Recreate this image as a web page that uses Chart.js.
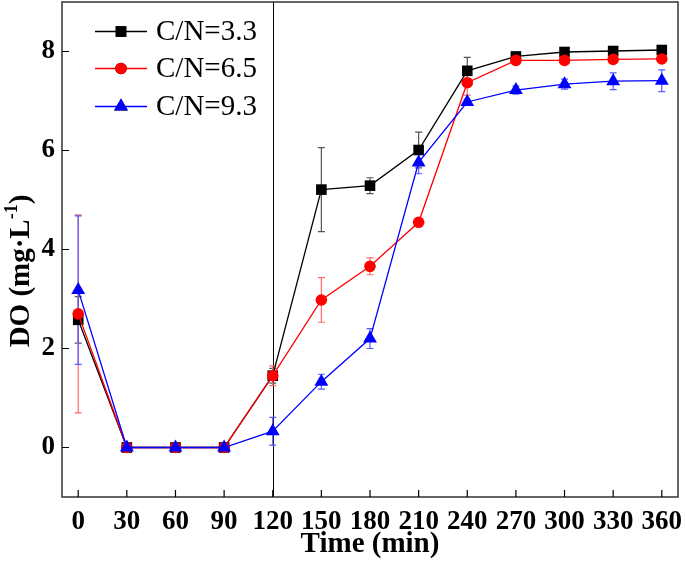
<!DOCTYPE html>
<html>
<head>
<meta charset="utf-8">
<script src="https://cdn.jsdelivr.net/npm/chart.js@4/dist/chart.umd.min.js"></script>
<style>
html,body{margin:0;padding:0;background:#fff;}
#c{display:block;}
</style>
</head>
<body>
<canvas id="c" width="685" height="569"></canvas>
<script>
// ---- data ----
const times = [0, 30, 60, 90, 120, 150, 180, 210, 240, 270, 300, 330, 360];
const xTicks = [0, 30, 60, 90, 120, 150, 180, 210, 240, 270, 300, 330, 360];
const yTicks = [0, 2, 4, 6, 8];
const seriesNames = ['C/N=3.3', 'C/N=6.5', 'C/N=9.3'];
const doCN33 = [2.58, 0, 0, 0, 1.45, 5.21, 5.29, 6.01, 7.61, 7.90, 7.99, 8.01, 8.03];
const errCN33 = [0.47, 0, 0, 0, 0.15, 0.85, 0.16, 0.36, 0.27, 0.05, 0.04, 0.04, 0.04];
const doCN65 = [2.70, 0, 0, 0, 1.45, 2.98, 3.66, 4.55, 7.37, 7.82, 7.82, 7.84, 7.85];
const errCN65 = [2.00, 0, 0, 0, 0.20, 0.45, 0.17, 0, 0.25, 0.04, 0.04, 0.04, 0.04];
const doCN93 = [3.18, 0, 0, 0, 0.33, 1.33, 2.20, 5.76, 6.98, 7.22, 7.34, 7.40, 7.41];
const errCN93 = [1.50, 0, 0, 0, 0.28, 0.15, 0.20, 0.23, 0.06, 0.08, 0.10, 0.17, 0.22];
const markerLine = 120; // vertical reference line position (min)

const toPts = arr => times.map((t, i) => ({x: t, y: arr[i]}));

const styles = [
  {color: '#000000', errColor: '#555555', shape: 'rect', r: 7.5},
  {color: '#ff0000', errColor: '#ff6a6a', shape: 'circle', r: 5.8},
  {color: '#0000ff', errColor: '#5a5aff', shape: 'triangle', r: 8}
];
const values = [doCN33, doCN65, doCN93];
const errors = [errCN33, errCN65, errCN93];

const datasets = values.map((v, i) => ({
  label: seriesNames[i],
  data: toPts(v),
  order: 3 - i,
  borderColor: styles[i].color,
  backgroundColor: styles[i].color,
  borderWidth: 1.3,
  pointStyle: styles[i].shape,
  pointRadius: styles[i].r,
  pointHoverRadius: styles[i].r,
  pointBorderWidth: 0,
  tension: 0,
  errors: errors[i],
  errColor: styles[i].errColor
}));

const serif = '"Liberation Serif", "Times New Roman", serif';

const decor = {
  id: 'decor',
  beforeDatasetsDraw(chart) {
    const {ctx, chartArea: a, scales: {x, y}} = chart;
    ctx.save();
    // vertical line
    const vx = x.getPixelForValue(markerLine);
    ctx.strokeStyle = '#000';
    ctx.lineWidth = 1;
    ctx.beginPath();
    ctx.moveTo(Math.round(vx) + 0.5, a.top);
    ctx.lineTo(Math.round(vx) + 0.5, a.bottom);
    ctx.stroke();
    // error bars
    chart.data.datasets.forEach(ds => {
      ctx.strokeStyle = ds.errColor;
      ctx.lineWidth = 1.2;
      ds.data.forEach((p, i) => {
        const e = ds.errors[i];
        if (!e) return;
        const px = x.getPixelForValue(p.x);
        const y1 = y.getPixelForValue(p.y + e);
        const y2 = y.getPixelForValue(p.y - e);
        ctx.beginPath();
        ctx.moveTo(px, y1); ctx.lineTo(px, y2);
        ctx.moveTo(px - 3.5, y1); ctx.lineTo(px + 3.5, y1);
        ctx.moveTo(px - 3.5, y2); ctx.lineTo(px + 3.5, y2);
        ctx.stroke();
      });
    });
    ctx.restore();
  },
  afterDraw(chart) {
    const {ctx, chartArea: a, scales: {x, y}} = chart;
    ctx.save();
    // frame
    ctx.strokeStyle = '#333';
    ctx.lineWidth = 1.5;
    ctx.strokeRect(a.left, a.top, a.right - a.left, a.bottom - a.top);
    // inward ticks
    ctx.strokeStyle = '#000';
    ctx.lineWidth = 1.2;
    ctx.beginPath();
    xTicks.forEach(t => {
      const px = x.getPixelForValue(t);
      ctx.moveTo(px, a.bottom); ctx.lineTo(px, a.bottom - 7);
    });
    yTicks.forEach(t => {
      const py = y.getPixelForValue(t);
      ctx.moveTo(a.left, py); ctx.lineTo(a.left + 7, py);
    });
    ctx.stroke();
    // legend
    const rows = [31.5, 68.5, 106.5];
    chart.data.datasets.forEach((ds, i) => {
      const cy = rows[i];
      ctx.strokeStyle = ds.borderColor;
      ctx.lineWidth = 1.3;
      ctx.beginPath();
      ctx.moveTo(95, cy); ctx.lineTo(147, cy);
      ctx.stroke();
      Chart.helpers.drawPoint(ctx, {pointStyle: ds.pointStyle, radius: ds.pointRadius, rotation: 0, borderWidth: 0}, 121, cy);
      ctx.fillStyle = ds.borderColor;
      ctx.fill();
      ctx.fillStyle = '#000';
      ctx.font = '29px ' + serif;
      ctx.textBaseline = 'middle';
      ctx.textAlign = 'left';
      ctx.fillText(ds.label, 156, cy + 1);
    });
    // x title
    ctx.fillStyle = '#000';
    ctx.font = 'bold 29px ' + serif;
    ctx.textAlign = 'center';
    ctx.textBaseline = 'alphabetic';
    ctx.fillText('Time (min)', (a.left + a.right) / 2, 552);
    // y title with superscript
    ctx.translate(35, 271);
    ctx.rotate(-Math.PI / 2);
    const f1 = 'bold 29px ' + serif, f2 = 'bold 18px ' + serif;
    const p1 = 'DO (mg·L', p2 = '-1', p3 = ')';
    ctx.font = f1; const w1 = ctx.measureText(p1).width, w3 = ctx.measureText(p3).width;
    ctx.font = f2; const w2 = ctx.measureText(p2).width;
    let sx = -(w1 + w2 + w3) / 2;
    ctx.textAlign = 'left';
    ctx.textBaseline = 'alphabetic';
    ctx.font = f1; ctx.fillText(p1, sx, -6); sx += w1;
    ctx.font = f2; ctx.fillText(p2, sx, -18); sx += w2;
    ctx.font = f1; ctx.fillText(p3, sx, -6);
    ctx.restore();
  }
};

new Chart(document.getElementById('c'), {
  type: 'line',
  data: {datasets},
  options: {
    responsive: false,
    animation: false,
    events: [],
    layout: {autoPadding: false, padding: {left: 0, top: 2, right: 7, bottom: 0}},
    plugins: {legend: {display: false}, tooltip: {enabled: false}},
    scales: {
      x: {
        type: 'linear', min: -10, max: 370,
        afterBuildTicks: s => { s.ticks = xTicks.map(v => ({value: v})); },
        afterFit: s => { s.height = 72; s.paddingLeft = 0; s.paddingRight = 0; s.paddingTop = 0; s.paddingBottom = 0; },
        grid: {display: false, drawTicks: false},
        border: {display: false},
        ticks: {padding: 9, color: '#000', maxRotation: 0, autoSkip: false,
                font: {family: serif, size: 27, weight: 'bold'}}
      },
      y: {
        type: 'linear', min: -1, max: 9,
        afterBuildTicks: s => { s.ticks = yTicks.map(v => ({value: v})); },
        afterFit: s => { s.width = 62; s.paddingLeft = 0; s.paddingRight = 0; s.paddingTop = 0; s.paddingBottom = 0; },
        grid: {display: false, drawTicks: false},
        border: {display: false},
        ticks: {padding: 7, color: '#000',
                font: {family: serif, size: 27, weight: 'bold'}}
      }
    }
  },
  plugins: [decor]
});
</script>
</body>
</html>
